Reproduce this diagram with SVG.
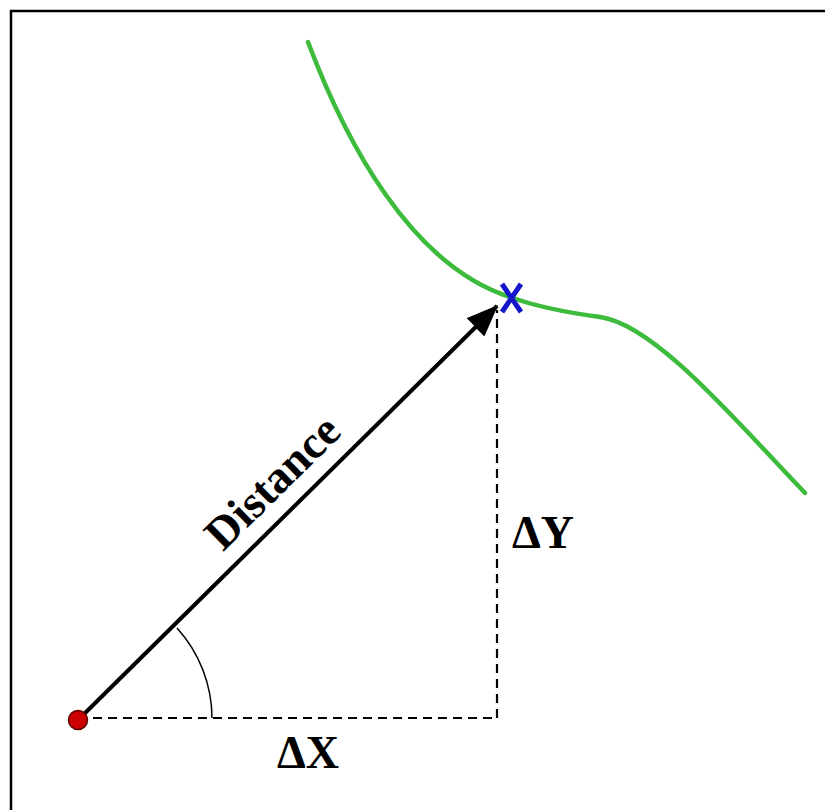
<svg xmlns="http://www.w3.org/2000/svg" width="825" height="810" viewBox="0 0 825 810">
  <style>
    .lbl { font-family: "Liberation Serif", "Times New Roman", serif; font-weight: bold; font-size: 46px; fill: #000; }
    .dash { fill: none; stroke: #000; stroke-width: 2.2; stroke-dasharray: 9 6; }
  </style>
  <defs>
    <marker id="arrowhead" markerWidth="8" markerHeight="6.4" refX="7.6" refY="3.2" orient="auto" markerUnits="strokeWidth">
      <path d="M0,0 L8,3.2 L0,6.4 Z" fill="#000"/>
    </marker>
  </defs>
  <rect x="0" y="0" width="825" height="810" fill="#fff"/>
  <rect x="11" y="11" width="900" height="900" fill="none" stroke="#000" stroke-width="2.5"/>

  <g id="curve">
    <path d="M308,42 C345,140 410,265 510,297 C540,308 570,313 600,317 C655,324.5 735,420 805,493" fill="none" stroke="#3cbb3c" stroke-width="4.5" stroke-linecap="round"/>
  </g>

  <g id="connectors">
    <line class="dash" x1="78" y1="718" x2="497" y2="718"/>
    <line class="dash" x1="497" y1="718" x2="497" y2="310"/>
    <line x1="78" y1="720" x2="497" y2="306" stroke="#000" stroke-width="4" marker-end="url(#arrowhead)"/>
    <path d="M177,628 A135,135 0 0 1 212,718" fill="none" stroke="#000" stroke-width="1.5"/>
  </g>

  <g id="origin">
    <circle cx="78" cy="720" r="9.5" fill="#cc0000" stroke="#5a0000" stroke-width="1.5"/>
  </g>

  <g id="target">
    <path d="M502,284 L521,312 M521,284 L502,312" stroke="#1515cc" stroke-width="5" fill="none"/>
  </g>

  <g id="labels">
    <text class="lbl" text-anchor="middle" transform="translate(283,493) rotate(-44.6)">Distance</text>
    <text class="lbl" x="512" y="548">ΔY</text>
    <text class="lbl" x="277" y="768">ΔX</text>
  </g>
</svg>
